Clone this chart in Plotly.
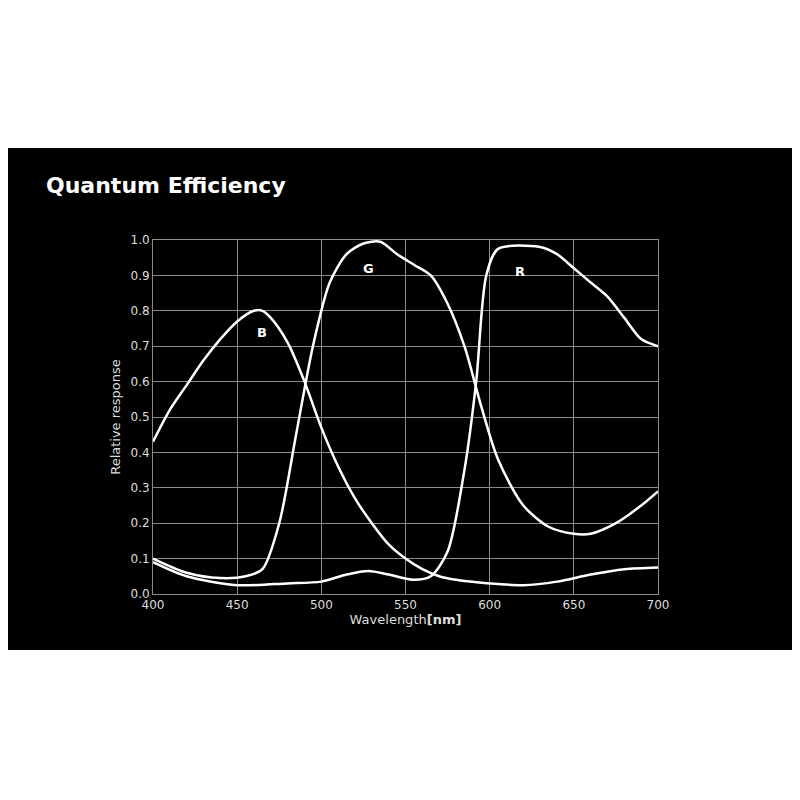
import plotly.graph_objects as go

wl_b = [400,410,420,430,440,450,460,465,470,480,490,500,510,520,530,540,550,560,570,580,600,620,640,660,680,700]
b = [0.43,0.52,0.59,0.66,0.72,0.77,0.80,0.80,0.78,0.71,0.60,0.47,0.36,0.27,0.20,0.14,0.10,0.07,0.05,0.04,0.03,0.025,0.035,0.055,0.07,0.075]
wl_g = [400,420,440,455,465,475,485,495,505,515,525,535,545,555,565,575,585,595,605,620,635,650,660,675,690,700]
g = [0.10,0.06,0.045,0.05,0.07,0.20,0.45,0.70,0.88,0.96,0.99,0.995,0.96,0.93,0.90,0.82,0.70,0.53,0.38,0.25,0.19,0.17,0.17,0.20,0.25,0.29]
wl_r = [400,420,450,480,500,515,528,540,555,565,575,585,592,598,605,630,640,650,660,670,680,690,700]
r = [0.09,0.05,0.025,0.03,0.035,0.055,0.065,0.055,0.04,0.05,0.12,0.35,0.60,0.90,0.975,0.98,0.96,0.92,0.88,0.84,0.78,0.72,0.70]
labels = [("B",465,0.74),("G",528,0.92),("R",618,0.91)]

fig = go.Figure()
for x,y in [(wl_b,b),(wl_g,g),(wl_r,r)]:
    fig.add_trace(go.Scatter(x=x,y=y,mode="lines",line=dict(color="white",width=2.5,shape="spline",smoothing=0.8),showlegend=False,hoverinfo="skip"))
for t,x,y in labels:
    fig.add_annotation(x=x,y=y,text=f"<b>{t}</b>",showarrow=False,font=dict(color="white",size=13,family="DejaVu Sans"))

ax = dict(showgrid=True,gridcolor="#8a8a8a",gridwidth=1,zeroline=False,showline=True,linecolor="#8a8a8a",mirror=True,
          tickfont=dict(color="#dddddd",size=12,family="DejaVu Sans"),ticks="")
fig.update_xaxes(**ax,range=[400,700],tickvals=[400,450,500,550,600,650,700],
                 title=dict(text="Wavelength<b>[nm]</b>",font=dict(color="#dddddd",size=13,family="DejaVu Sans"),standoff=2))
fig.update_yaxes(**ax,range=[0,1],dtick=0.1,tickformat=".1f",
                 title=dict(text="Relative response",font=dict(color="#dddddd",size=13,family="DejaVu Sans"),standoff=6))
fig.add_shape(type="rect",xref="paper",yref="paper",x0=-0.4,x1=1.4,y0=-0.158,y1=1.26,fillcolor="black",line_width=0,layer="below")
fig.add_annotation(xref="paper",yref="paper",x=-0.215,y=1.155,xanchor="left",yanchor="middle",showarrow=False,
                   text="<b>Quantum Efficiency</b>",font=dict(color="white",size=22,family="DejaVu Sans"))
fig.update_layout(width=800,height=800,paper_bgcolor="white",plot_bgcolor="black",
                  margin=dict(l=145,r=150,t=232,b=214))
fig.write_html("out.html")
